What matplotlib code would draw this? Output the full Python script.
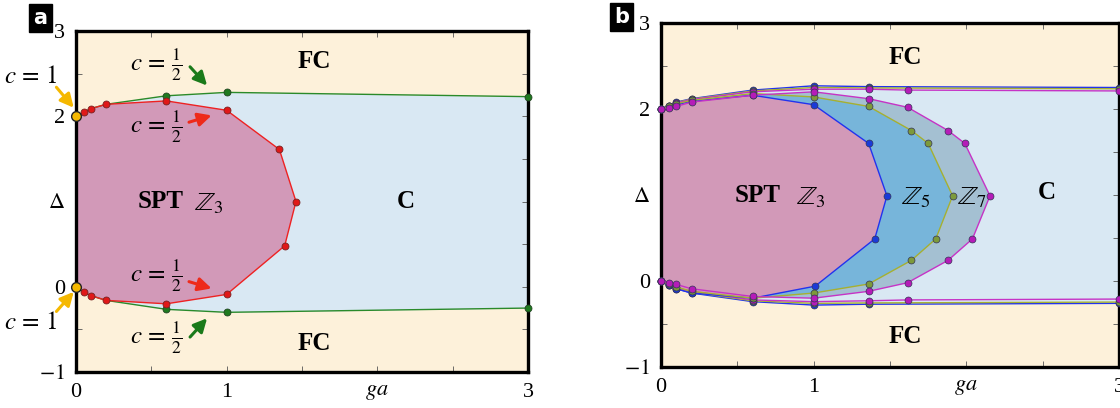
import numpy as np
import matplotlib
matplotlib.use('Agg')
from matplotlib import pyplot as plt
from matplotlib.patches import Polygon

plt.rcParams['font.family'] = ['Liberation Serif', 'DejaVu Serif']
plt.rcParams['mathtext.fontset'] = 'stix'

# colours
cream = '#fdf1da'
cblue = '#d9e8f3'
pink = '#d299b8'
midblue = '#77b5da'
greyblue = '#a4c0d2'

# ---- panel a data ----
a_red_x = [0, 0.05, 0.1, 0.2, 0.6, 1.0, 1.35, 1.46, 1.385, 1.0, 0.6, 0.2, 0.1, 0.05, 0]
a_red_y = [2.0, 2.045, 2.09, 2.14, 2.18, 2.07, 1.61, 1.0, 0.48, -0.09, -0.2, -0.16, -0.105, -0.064, 0.0]
a_green_x = [0, 0.05, 0.1, 0.2, 0.6, 1.0, 3.0]
a_green_up = [2.0, 2.045, 2.09, 2.14, 2.24, 2.28, 2.23]
a_green_lo = [0.0, -0.064, -0.105, -0.16, -0.265, -0.30, -0.25]

# ---- panel b data ----
b_z3_x = [0, 0.05, 0.1, 0.2, 0.6, 1.0, 1.36, 1.48, 1.40, 1.01, 0.6, 0.2, 0.1, 0.05, 0]
b_z3_y = [2.0, 2.02, 2.05, 2.09, 2.16, 2.05, 1.6, 0.99, 0.49, -0.06, -0.2, -0.14, -0.09, -0.05, 0.0]
b_z5_x = [0, 0.05, 0.1, 0.2, 0.6, 1.0, 1.36, 1.64, 1.75, 1.91, 1.80, 1.64, 1.36, 1.0, 0.6, 0.2, 0.1, 0.05, 0]
b_z5_y = [2.0, 2.03, 2.06, 2.1, 2.18, 2.14, 2.03, 1.75, 1.6, 0.99, 0.49, 0.24, -0.035, -0.14, -0.2, -0.12, -0.07, -0.04, 0.0]
b_z7_x = [0, 0.05, 0.1, 0.2, 0.6, 1.0, 1.36, 1.615, 1.88, 1.99, 2.155, 2.04, 1.88, 1.615, 1.36, 1.0, 0.6, 0.2, 0.1, 0.05, 0]
b_z7_y = [2.0, 2.01, 2.03, 2.08, 2.16, 2.2, 2.12, 2.02, 1.75, 1.6, 0.99, 0.49, 0.24, -0.02, -0.12, -0.2, -0.18, -0.09, -0.04, -0.02, 0.0]

b_out_x = [0, 0.05, 0.1, 0.2, 0.6, 1.0, 1.36, 3.0]
b_z3_out_up = [2.0, 2.04, 2.08, 2.12, 2.22, 2.27, 2.26, 2.25]
b_z3_out_lo = [0.0, -0.05, -0.09, -0.14, -0.24, -0.28, -0.27, -0.26]
b_z5_out_up = [2.0, 2.035, 2.075, 2.115, 2.21, 2.25, 2.245, 2.235]
b_z5_out_lo = [0.0, -0.045, -0.085, -0.13, -0.23, -0.26, -0.255, -0.245]
b_z7_out_x = [0, 0.05, 0.1, 0.2, 0.6, 1.0, 1.36, 1.615, 3.0]
b_z7_out_up = [2.0, 2.03, 2.07, 2.11, 2.2, 2.23, 2.23, 2.22, 2.21]
b_z7_out_lo = [0.0, -0.04, -0.08, -0.12, -0.22, -0.24, -0.23, -0.22, -0.21]

fig = plt.figure(figsize=(11.2, 4.08), dpi=100)
ax1 = fig.add_axes([76/1120, 1-372/408, 452/1120, 341/408])
ax2 = fig.add_axes([661/1120, 1-367/408, 458/1120, 344/408])


def style(ax):
    ax.set_xlim(0, 3)
    ax.set_ylim(-1, 3)
    ax.set_facecolor(cream)
    ax.set_xticks([0, 1, 2, 3])
    ax.set_xticklabels(['0', '1', '$ga$', '3'])
    ax.set_yticks([-1, 0, 1, 2, 3])
    ax.set_yticklabels(['$-1$', '0', r'$\Delta$', '2', '3'])
    ax.set_xticks(np.arange(0, 3.01, 0.5), minor=True)
    ax.set_yticks(np.arange(-1, 3.01, 0.5), minor=True)
    ax.tick_params(which='both', direction='in', top=True, right=True,
                   length=4, width=0.6, color='#555555', labelsize=16, pad=8)
    for s in ax.spines.values():
        s.set_linewidth(2.4)
    ax.set_zorder(1)


style(ax1)
style(ax2)

# ---- panel a ----
ax1.fill_between(a_green_x, a_green_lo, a_green_up, color=cblue, lw=0, zorder=1)
ax1.add_patch(Polygon(np.column_stack([a_red_x, a_red_y]), closed=True,
                      facecolor=pink, edgecolor='none', zorder=2))
ax1.plot(a_green_x, a_green_up, color='#2a8a2a', lw=1, zorder=3)
ax1.plot(a_green_x, a_green_lo, color='#2a8a2a', lw=1, zorder=3)
ax1.plot(a_green_x[4:], a_green_up[4:], 'o', ms=5, mfc='#1f7a1f', mec='#224422', mew=0.6,
         zorder=4, clip_on=False)
ax1.plot(a_green_x[4:], a_green_lo[4:], 'o', ms=5, mfc='#1f7a1f', mec='#224422', mew=0.6,
         zorder=4, clip_on=False)
ax1.plot(a_red_x[1:-1], a_red_y[1:-1], '-o', color='#ee2222', lw=1, ms=5, mfc='#e01818',
         mec='#772222', mew=0.6, zorder=5)
ax1.plot([0, 0], [2.0, 0.0], 'o', ms=7, mfc='#f5b800', mec='#222222', mew=1, zorder=6,
         clip_on=False)

ax1.text(1.58, 2.64, 'FC', fontsize=18, fontweight='bold', ha='center', va='center')
ax1.text(1.58, -0.66, 'FC', fontsize=18, fontweight='bold', ha='center', va='center')
ax1.text(0.56, 1.0, 'SPT', fontsize=18, fontweight='bold', ha='center', va='center')
ax1.text(0.88, 0.97, r'$\mathbb{Z}_3$', fontsize=19, ha='center', va='center')
ax1.text(2.19, 1.0, 'C', fontsize=18, fontweight='bold', ha='center', va='center')

# labels with arrows
half = r'$c\,=\,\frac{1}{2}$'
ax1.text(-0.3, 2.46, r'$c\,=\,1$', fontsize=18, ha='center', va='center', clip_on=False)
ax1.text(-0.3, -0.42, r'$c\,=\,1$', fontsize=18, ha='center', va='center', clip_on=False)
ax1.text(0.53, 2.6, half, fontsize=18, ha='center', va='center')
ax1.text(0.53, 1.87, half, fontsize=18, ha='center', va='center')
ax1.text(0.53, 0.13, half, fontsize=18, ha='center', va='center')
ax1.text(0.53, -0.6, half, fontsize=18, ha='center', va='center')

arw = dict(arrowstyle='-|>,head_length=0.8,head_width=0.4', lw=2.2, shrinkA=0, shrinkB=0)
arrows = [((-0.13, 2.34), (-0.015, 2.1), '#f5b800'),
          ((-0.13, -0.29), (-0.015, -0.06), '#f5b800'),
          ((0.757, 2.58), (0.87, 2.36), '#1a7a1a'),
          ((0.75, 1.93), (0.9, 2.01), '#ee2a1a'),
          ((0.75, 0.06), (0.9, -0.02), '#ee2a1a'),
          ((0.757, -0.59), (0.87, -0.37), '#1a7a1a')]
for start, end, col in arrows:
    ax1.annotate('', xy=end, xytext=start, annotation_clip=False,
                 arrowprops=dict(color=col, **arw), zorder=7)

# ---- panel b ----
ax2.fill_between(b_out_x, b_z3_out_lo, b_z3_out_up, color=cblue, lw=0, zorder=1)
ax2.add_patch(Polygon(np.column_stack([b_z7_x, b_z7_y]), closed=True,
                      facecolor=greyblue, edgecolor='none', zorder=2))
ax2.add_patch(Polygon(np.column_stack([b_z5_x, b_z5_y]), closed=True,
                      facecolor=midblue, edgecolor='none', zorder=2))
ax2.add_patch(Polygon(np.column_stack([b_z3_x, b_z3_y]), closed=True,
                      facecolor=pink, edgecolor='none', zorder=2))

series = [
    (b_out_x, b_z3_out_up, b_z3_out_lo, b_z3_x, b_z3_y, '#2233ee', '#1a3ad8'),
    (b_out_x, b_z5_out_up, b_z5_out_lo, b_z5_x, b_z5_y, '#a6b030', '#7d9a3a'),
    (b_z7_out_x, b_z7_out_up, b_z7_out_lo, b_z7_x, b_z7_y, '#c633c6', '#b51cb8'),
]
for ox, oup, olo, ix, iy, lc, mc in series:
    for yy in (oup, olo):
        ax2.plot(ox, yy, '-o', color=lc, lw=1, ms=5, mfc=mc, mec='#333355', mew=0.5,
                 zorder=4, clip_on=False)
    ax2.plot(ix, iy, '-o', color=lc, lw=1, ms=5, mfc=mc, mec='#333355', mew=0.5,
             zorder=5, clip_on=False)

ax2.text(1.6, 2.6, 'FC', fontsize=18, fontweight='bold', ha='center', va='center')
ax2.text(1.6, -0.65, 'FC', fontsize=18, fontweight='bold', ha='center', va='center')
ax2.text(0.63, 1.0, 'SPT', fontsize=18, fontweight='bold', ha='center', va='center')
ax2.text(0.98, 0.97, r'$\mathbb{Z}_3$', fontsize=19, ha='center', va='center')
ax2.text(1.67, 0.97, r'$\mathbb{Z}_5$', fontsize=19, ha='center', va='center')
ax2.text(2.04, 0.97, r'$\mathbb{Z}_7$', fontsize=19, ha='center', va='center')
ax2.text(2.53, 1.03, 'C', fontsize=18, fontweight='bold', ha='center', va='center')

# panel letters
for x0, y0, lab in [(28, 7, 'a'), (609, 6, 'b')]:
    fig.text((x0 + 12.5) / 1120, 1 - (y0 + 11) / 408, lab, color='white', fontsize=15,
             fontweight='bold', family='DejaVu Sans', ha='center', va='center',
             bbox=dict(boxstyle='square,pad=0.2', fc='black', ec='black'))

fig.savefig('out.png', dpi=100)
